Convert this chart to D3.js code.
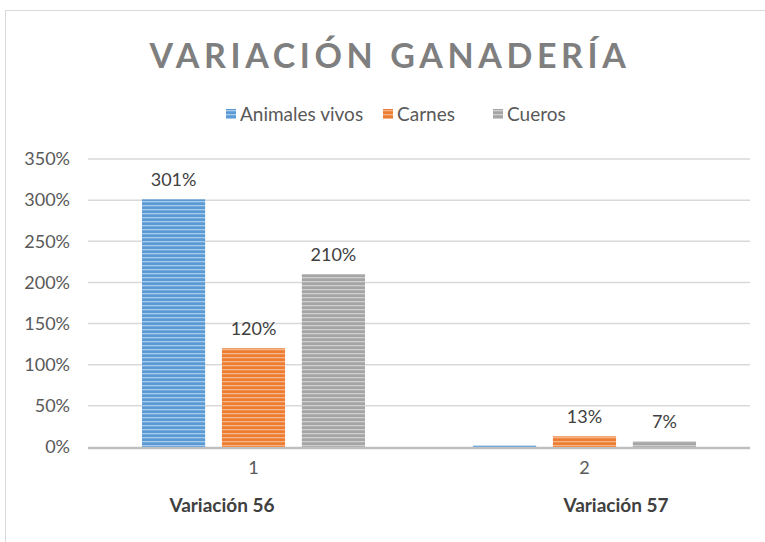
<!DOCTYPE html>
<html>
<head>
<meta charset="utf-8">
<script src="https://cdn.jsdelivr.net/npm/d3@7"></script>
<style>
  body { margin: 0; background: #fff; }
  text { font-family: Lato, "Open Sans", sans-serif; }
</style>
</head>
<body>
<script>
// chart data
var categories = ["1", "2"];
var groupNames = ["Variación 56", "Variación 57"];
var seriesNames = ["Animales vivos", "Carnes", "Cueros"];
var animalesVivos = [3.01, 0.02];
var carnes = [1.20, 0.13];
var cueros = [2.10, 0.07];
var labelsShown = [[true, false], [true, true], [true, true]];
var yTicks = [0, 0.5, 1, 1.5, 2, 2.5, 3, 3.5];

var series = [animalesVivos, carnes, cueros];
var baseColors = ["#5b9bd5", "#ed7d31", "#a5a5a5"];
var stripeColors = ["#a9cbeb", "#f6b48a", "#cfcfcf"];

var W = 765, H = 542;
var margin = { top: 159, right: 15, bottom: 95, left: 88 },
  width = W - margin.left - margin.right,
  height = H - margin.top - margin.bottom;

var svg = d3.select("body").append("svg")
  .attr("width", W)
  .attr("height", H);

// stripe patterns
var defs = svg.append("defs");
baseColors.forEach(function (c, i) {
  var p = defs.append("pattern")
    .attr("id", "stripe" + i)
    .attr("patternUnits", "userSpaceOnUse")
    .attr("width", 8).attr("height", 4);
  p.append("rect").attr("width", 8).attr("height", 4).attr("fill", c);
  p.append("rect").attr("y", 2).attr("width", 8).attr("height", 1.3).attr("fill", stripeColors[i]);
});

// chart border
svg.append("rect")
  .attr("x", 5.5).attr("y", 10.5)
  .attr("width", W + 20).attr("height", H + 20)
  .attr("fill", "none")
  .attr("stroke", "#d9d9d9");

// title
svg.append("text")
  .attr("x", 390).attr("y", 68)
  .attr("text-anchor", "middle")
  .style("font-size", "34px")
  .style("font-weight", "bold")
  .style("letter-spacing", "4.6px")
  .style("fill", "#7f7f7f")
  .text("VARIACIÓN GANADERÍA");

// legend
var legendX = [226, 383, 493];
var legend = svg.append("g");
seriesNames.forEach(function (n, i) {
  legend.append("rect")
    .attr("x", legendX[i]).attr("y", 109)
    .attr("width", 10).attr("height", 10)
    .attr("fill", "url(#stripe" + i + ")");
  legend.append("text")
    .attr("x", legendX[i] + 14).attr("y", 121)
    .style("font-size", "19px")
    .style("fill", "#595959")
    .text(n);
});

var g = svg.append("g")
  .attr("transform", "translate(" + margin.left + "," + margin.top + ")");

var x0 = d3.scaleBand().domain(categories).range([0, width]);
var x1 = d3.scaleBand().domain(d3.range(series.length))
  .range([54, x0.bandwidth() - 54]).paddingInner(0.21);
var y = d3.scaleLinear().domain([0, 3.5]).range([height, 0]);

// gridlines
g.selectAll(".grid").data(yTicks.slice(1)).enter()
  .append("line")
  .attr("x1", 0).attr("x2", width)
  .attr("y1", function (d) { return y(d); })
  .attr("y2", function (d) { return y(d); })
  .attr("stroke", "#d9d9d9")
  .attr("stroke-width", 1.5);

// y axis labels
var yAxis = g.append("g")
  .call(d3.axisLeft(y).tickValues(yTicks).tickFormat(d3.format(".0%")).tickSize(0).tickPadding(18));
yAxis.select(".domain").remove();
yAxis.selectAll("text")
  .style("font-size", "18px")
  .style("fill", "#595959")
  .style("font-family", "Lato, sans-serif");

// x baseline
g.append("line")
  .attr("x1", 0).attr("x2", width)
  .attr("y1", height + 1).attr("y2", height + 1)
  .attr("stroke", "#bfbfbf")
  .attr("stroke-width", 2.5);

// bars
var groups = g.selectAll(".grp").data(categories).enter()
  .append("g")
  .attr("transform", function (d) { return "translate(" + x0(d) + ",0)"; });

groups.each(function (cat, ci) {
  var sel = d3.select(this);
  series.forEach(function (s, si) {
    sel.append("rect")
      .attr("x", x1(si))
      .attr("y", y(s[ci]))
      .attr("width", x1.bandwidth())
      .attr("height", height - y(s[ci]))
      .attr("fill", "url(#stripe" + si + ")");
    if (labelsShown[si][ci]) {
      sel.append("text")
        .attr("x", x1(si) + x1.bandwidth() / 2)
        .attr("y", y(s[ci]) - 13)
        .attr("text-anchor", "middle")
        .style("font-size", "18px")
        .style("fill", "#404040")
        .text(d3.format(".0%")(s[ci]));
    }
  });
});

// category labels
var xAxis = g.append("g")
  .attr("transform", "translate(0," + height + ")")
  .call(d3.axisBottom(x0).tickSize(0).tickPadding(14));
xAxis.select(".domain").remove();
xAxis.selectAll("text")
  .style("font-size", "18px")
  .style("fill", "#595959")
  .style("font-family", "Lato, sans-serif");

// group names
var groupX = [222, 616];
svg.selectAll(".gname").data(groupNames).enter()
  .append("text")
  .attr("x", function (d, i) { return groupX[i]; })
  .attr("y", 512)
  .attr("text-anchor", "middle")
  .style("font-size", "19px")
  .style("font-weight", "bold")
  .style("fill", "#404040")
  .text(function (d) { return d; });
</script>
</body>
</html>
